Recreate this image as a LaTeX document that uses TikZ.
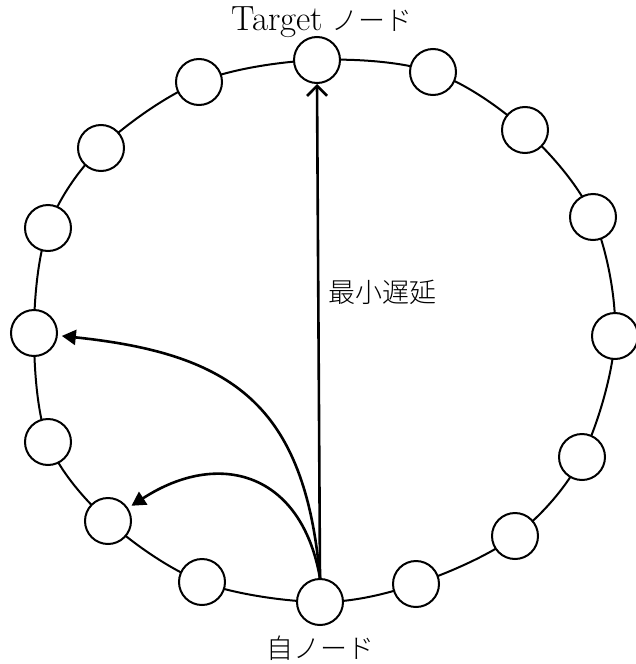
\documentclass[tikz,border=0pt]{standalone}
\usepackage{fontspec}
\newfontfamily\jp{Noto Sans CJK JP}[UprightFont=* Light]
\usetikzlibrary{arrows.meta}
\begin{document}
\begin{tikzpicture}[x=1pt,y=-1pt,
  peer/.style={circle,draw=black,line width=2pt,fill=white,minimum size=46pt,inner sep=0pt},
  ring/.style={line width=2pt},
  link/.style={line width=2.6pt},
  lbl/.style={inner sep=0pt,font=\fontsize{27}{30}\selectfont}]
\useasboundingbox (0,0) rectangle (635,664);
\draw[ring] plot[smooth cycle,tension=0.55] coordinates{
 (317,60) (433,72) (525,130) (593,217) (615,336) (582,457) (515,536) (416,584)
 (320,602) (202,582) (108,521) (48,442) (34,333) (48,228) (101,148) (199,82)};
\node[peer] (top) at (317,60) {};
\node[peer] (r1) at (433,72) {};
\node[peer] (r2) at (525,130) {};
\node[peer] (r3) at (593,217) {};
\node[peer] (r4) at (615,336) {};
\node[peer] (r5) at (582,457) {};
\node[peer] (r6) at (515,536) {};
\node[peer] (r7) at (416,584) {};
\node[peer] (self) at (320,602) {};
\node[peer] (l7) at (202,582) {};
\node[peer] (l6) at (108,521) {};
\node[peer] (l5) at (48,442) {};
\node[peer] (l4) at (34,333) {};
\node[peer] (l3) at (48,228) {};
\node[peer] (l2) at (101,148) {};
\node[peer] (l1) at (199,82) {};
\node[lbl] (tl) at (322,22) {{\fontsize{35}{38}\selectfont Target} {\jp ノード}};
\node[lbl] (sl) at (320,648) {\jp 自ノード};
\node[lbl,anchor=west] (dl) at (328,292) {\jp 最小遅延};
\draw[link,-{Straight Barb[length=10pt,width=20pt,line width=2.6pt]}] (self.north) -- (top.south);
\draw[link,-{Triangle[length=14pt,width=15pt]},shorten >=4pt] (self.north) to[out=95,in=-6,looseness=1.25] (l4);
\draw[link,-{Triangle[length=14pt,width=15pt]},shorten >=4pt] (self.north) to[out=100,in=33,looseness=1.35] (l6);
\end{tikzpicture}
\end{document}
